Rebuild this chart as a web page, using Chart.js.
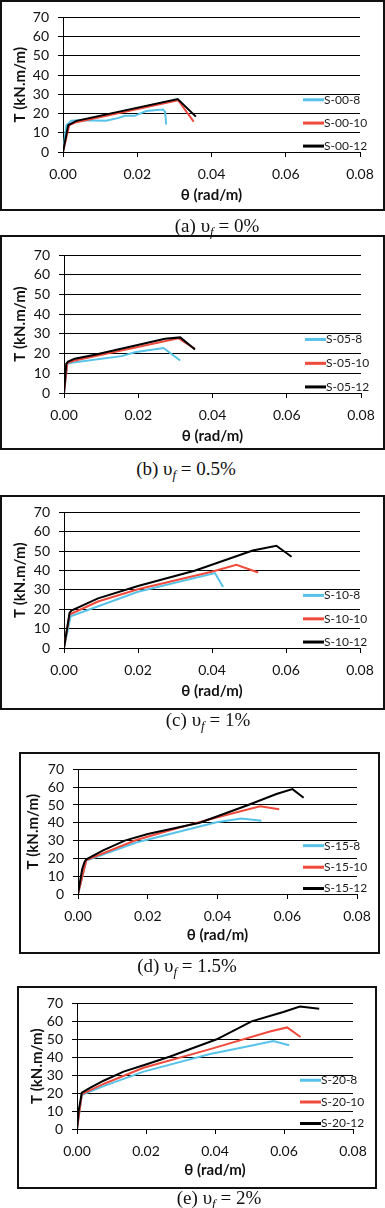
<!DOCTYPE html>
<html>
<head>
<meta charset="utf-8">
<script src="https://cdn.jsdelivr.net/npm/chart.js@4.4.0/dist/chart.umd.min.js"></script>
<style>
  body { margin: 0; width: 385px; height: 1208px; background: #fff; position: relative; overflow: hidden; }
  .box { position: absolute; border: 2px solid #111; box-sizing: border-box; pointer-events: none; }
  canvas { position: absolute; }
  .cap { position: absolute; font-family: "Liberation Serif", "DejaVu Serif", serif; font-size: 19px; color: #111;
         white-space: nowrap; transform: translate(-50%, -50%); }
  .cap i { font-size: 13px; vertical-align: -4px; }
</style>
</head>
<body>
<script>
// ---- data: theta (rad/m) and T (kN.m/m) ----
const xTicks = [0, 0.02, 0.04, 0.06, 0.08]
const yTicks = [0, 10, 20, 30, 40, 50, 60, 70]

// (a) 0%
const s00_8_theta = [0, 0.0009, 0.0022, 0.004, 0.0116, 0.0148, 0.0166, 0.0193, 0.0224, 0.0269, 0.0275, 0.0278]
const s00_8_T     = [0, 13.8, 16.3, 16.5, 16.3, 17.6, 18.8, 18.8, 21.3, 22.1, 21.0, 14.3]
const s00_10_theta = [0, 0.0017, 0.0036, 0.031, 0.0352]
const s00_10_T     = [0, 14.0, 15.5, 26.9, 15.8]
const s00_12_theta = [0, 0.0014, 0.0036, 0.0309, 0.0358]
const s00_12_T     = [0, 14.0, 16.2, 27.5, 18.4]

// (b) 0.5%
const s05_8_theta = [0, 0.0009, 0.002, 0.0155, 0.0191, 0.0268, 0.0313]
const s05_8_T     = [0, 14.8, 15.3, 18.7, 20.7, 22.8, 16.5]
const s05_10_theta = [0, 0.0009, 0.0029, 0.0308, 0.0352]
const s05_10_T     = [0, 15.3, 16.5, 27.8, 22.5]
const s05_12_theta = [0, 0.0006, 0.0011, 0.0029, 0.0083, 0.0272, 0.0313, 0.0353]
const s05_12_T     = [0, 14.8, 16.0, 17.4, 19.4, 27.5, 28.2, 22.1]

// (c) 1%
const s10_8_theta = [0, 0.0018, 0.02, 0.0408, 0.043]
const s10_8_T     = [0, 16.4, 29.0, 38.7, 31.5]
const s10_10_theta = [0, 0.0015, 0.0092, 0.02, 0.0399, 0.0466, 0.0525]
const s10_10_T     = [0, 17.3, 24.0, 30.3, 39.4, 42.9, 39.0]
const s10_12_theta = [0, 0.0015, 0.002, 0.0092, 0.02, 0.0355, 0.051, 0.0574, 0.0615]
const s10_12_T     = [0, 18.1, 19.3, 25.6, 32.0, 40.0, 50.3, 52.8, 47.1]

// (d) 1.5%
const s15_8_theta = [0, 0.0024, 0.0167, 0.0397, 0.0468, 0.0526]
const s15_8_T     = [0, 18.8, 28.9, 40.3, 42.4, 41.2]
const s15_10_theta = [0, 0.0024, 0.0167, 0.0311, 0.0397, 0.0522, 0.0577]
const s15_10_T     = [0, 19.1, 30.3, 38.4, 43.0, 49.3, 47.6]
const s15_12_theta = [0, 0.0005, 0.0012, 0.0019, 0.0024, 0.0072, 0.0134, 0.02, 0.0349, 0.0488, 0.0569, 0.0615, 0.0647]
const s15_12_T     = [0, 6.0, 14.0, 18.1, 19.5, 24.5, 30.0, 33.7, 40.0, 50.0, 56.2, 58.9, 54.1]

// (e) 2%
const s20_8_theta = [0, 0.0014, 0.0077, 0.0193, 0.0386, 0.0511, 0.0569, 0.0615]
const s20_8_T     = [0, 19.0, 23.9, 32.0, 41.8, 46.7, 49.0, 46.7]
const s20_10_theta = [0, 0.0014, 0.0077, 0.0193, 0.0386, 0.0559, 0.0609, 0.0648]
const s20_10_T     = [0, 19.4, 25.1, 34.1, 44.5, 54.3, 56.6, 51.3]
const s20_12_theta = [0, 0.0005, 0.0014, 0.0039, 0.0077, 0.0135, 0.0193, 0.027, 0.0366, 0.0405, 0.0506, 0.0598, 0.0646, 0.0702]
const s20_12_T     = [0, 10.4, 20.3, 23.0, 26.9, 32.0, 35.5, 40.4, 47.2, 50.0, 60.0, 65.2, 68.2, 67.0]

const seriesColors = ['#57c3e8', '#ef4a3c', '#000000']

// ---- layout of the five panels (page px) ----
// box: [left, top, right, bottom], plot: [left, top, right, bottom]
const panels = [
    { box: [0, 0, 385, 211], plot: [63, 13, 360, 152], yTitleX: 20, xTitleY: 195, legX: 57,
      cap: [217, 227, '(a) ', ' = 0%'],
      names: ['S-00-8', 'S-00-10', 'S-00-12'],
      series: [[s00_8_theta, s00_8_T], [s00_10_theta, s00_10_T], [s00_12_theta, s00_12_T]] },
    { box: [0, 235, 385, 450], plot: [64, 255, 361, 393], yTitleX: 20, xTitleY: 436, legX: 56,
      cap: [186, 470, '(b) ', ' = 0.5%'],
      names: ['S-05-8', 'S-05-10', 'S-05-12'],
      series: [[s05_8_theta, s05_8_T], [s05_10_theta, s05_10_T], [s05_12_theta, s05_12_T]] },
    { box: [0, 495, 385, 710], plot: [64, 508, 360, 648], yTitleX: 20, xTitleY: 691, legX: 57,
      cap: [208, 721, '(c) ', ' = 1%'],
      names: ['S-10-8', 'S-10-10', 'S-10-12'],
      series: [[s10_8_theta, s10_8_T], [s10_10_theta, s10_10_T], [s10_12_theta, s10_12_T]] },
    { box: [19, 752, 380, 954], plot: [78, 764, 357, 894], yTitleX: 33, xTitleY: 935, legX: 54,
      cap: [187, 967, '(d) ', ' = 1.5%'],
      names: ['S-15-8', 'S-15-10', 'S-15-12'],
      series: [[s15_8_theta, s15_8_T], [s15_10_theta, s15_10_T], [s15_12_theta, s15_12_T]] },
    { box: [17, 986, 377, 1189], plot: [77, 999, 353, 1129], yTitleX: 37, xTitleY: 1170, legX: 53,
      cap: [219, 1199, '(e) ', ' = 2%'],
      names: ['S-20-8', 'S-20-10', 'S-20-12'],
      series: [[s20_8_theta, s20_8_T], [s20_10_theta, s20_10_T], [s20_12_theta, s20_12_T]] }
]

const tickSize = 14
const titleSize = 15

Chart.defaults.font.family = 'Lato, "Open Sans", "DejaVu Sans", sans-serif'
Chart.defaults.color = '#111'

// Excel-like legend sitting inside the plot, bottom right
const legendRows = [0.388, 0.215, 0.044]
const insideLegend = {
    id: 'insideLegend',
    afterDraw(chart, args, opts) {
        const {ctx, chartArea} = chart
        const h = chartArea.bottom - chartArea.top
        ctx.save()
        chart.data.datasets.forEach((ds, i) => {
            const y = chartArea.bottom - h * legendRows[i]
            const x0 = chartArea.right - opts.offset
            ctx.strokeStyle = ds.borderColor
            ctx.lineWidth = 3
            ctx.beginPath()
            ctx.moveTo(x0, y)
            ctx.lineTo(x0 + 21, y)
            ctx.stroke()
            ctx.fillStyle = '#1a1a1a'
            ctx.font = '12px Lato, "Open Sans", sans-serif'
            ctx.textBaseline = 'middle'
            ctx.textAlign = 'left'
            ctx.fillText(ds.label, x0 + 21, y)
        })
        ctx.restore()
    }
}

for (const p of panels) {
    const [bl, bt, br, bb] = p.box
    const [pl, pt, pr, pb] = p.plot

    const canvas = document.createElement('canvas')
    canvas.width = br - bl
    canvas.height = bb - bt
    canvas.style.left = bl + 'px'
    canvas.style.top = bt + 'px'
    canvas.style.width = (br - bl) + 'px'
    canvas.style.height = (bb - bt) + 'px'
    document.body.appendChild(canvas)

    const frame = document.createElement('div')
    frame.className = 'box'
    frame.style.left = bl + 'px'
    frame.style.top = bt + 'px'
    frame.style.width = (br - bl) + 'px'
    frame.style.height = (bb - bt) + 'px'
    document.body.appendChild(frame)

    const cap = document.createElement('div')
    cap.className = 'cap'
    cap.style.left = p.cap[0] + 'px'
    cap.style.top = p.cap[1] + 'px'
    cap.innerHTML = p.cap[2] + '\u03c5<i>f</i>' + p.cap[3]
    document.body.appendChild(cap)

    const datasets = p.series.map(([xs, ys], i) => ({
        label: p.names[i],
        data: xs.map((x, j) => ({x: x, y: ys[j]})),
        borderColor: seriesColors[i],
        borderWidth: 2,
        pointRadius: 0,
        fill: false,
        tension: 0,
        order: 2 - i
    }))

    new Chart(canvas, {
        type: 'line',
        data: {datasets: datasets},
        plugins: [insideLegend],
        options: {
            responsive: false,
            animation: false,
            events: [],
            layout: {padding: {left: 0, top: pt - bt, right: br - pr, bottom: 0}},
            plugins: {
                legend: {display: false},
                tooltip: {enabled: false},
                insideLegend: {offset: p.legX}
            },
            scales: {
                x: {
                    type: 'linear',
                    min: xTicks[0],
                    max: xTicks[xTicks.length - 1],
                    afterFit: s => { s.height = bb - pb },
                    afterBuildTicks: s => { s.ticks = xTicks.map(v => ({value: v})) },
                    ticks: {callback: v => v.toFixed(2), padding: 8.6, autoSkip: false, maxRotation: 0,
                            font: {size: tickSize}, color: '#111'},
                    grid: {drawOnChartArea: false, tickLength: 5, tickColor: '#000'},
                    border: {color: '#000', width: 1},
                    title: {display: true, text: 'θ (rad/m)', color: '#111', font: {size: titleSize, weight: 'bold'},
                            padding: {top: 0, bottom: (bb - p.xTitleY) - titleSize * 0.6}}
                },
                y: {
                    min: yTicks[0],
                    max: yTicks[yTicks.length - 1],
                    afterFit: s => { s.width = pl - bl },
                    afterBuildTicks: s => { s.ticks = yTicks.map(v => ({value: v})) },
                    ticks: {padding: 9, autoSkip: false, font: {size: tickSize}, color: '#111'},
                    grid: {color: '#000', lineWidth: 1, tickLength: 5},
                    border: {color: '#000', width: 1},
                    title: {display: true, text: 'T (kN.m/m)', color: '#111', font: {size: titleSize, weight: 'bold'},
                            padding: {top: (p.yTitleX - bl) - titleSize * 0.6, bottom: 0}}
                }
            }
        }
    })
}
</script>
</body>
</html>
